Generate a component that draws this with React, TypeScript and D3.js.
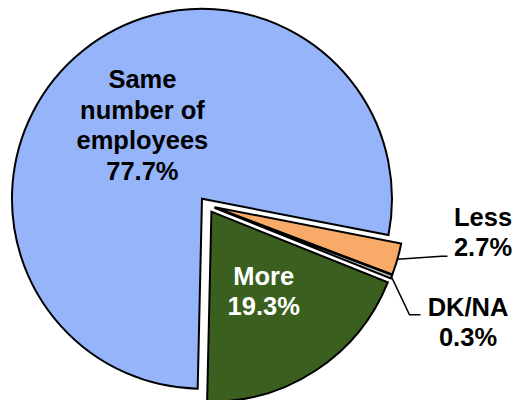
import * as d3 from 'd3'

const WIDTH = 514
const HEIGHT = 400

// data, clockwise from the Same slice
const categories = ['Same number of employees', 'Less', 'DK/NA', 'More']
const shares = [77.7, 2.7, 0.3, 19.3]
const labelLines = [
  ['Same', 'number of', 'employees', '77.7%'],
  ['Less', '2.7%'],
  ['DK/NA', '0.3%'],
  ['More', '19.3%'],
]
const colors = ['#96B4FA', '#F8AA68', '#C0C0C0', '#3B5F1E']
const textColors = ['#000', '#000', '#000', '#fff']

export default function App() {
  const cx = 207
  const cy = 205
  const radius = 190
  const explode = 8
  const fontSize = 25.5
  const lineH = 30.5

  const pie = d3
    .pie<number>()
    .sort(null)
    .value((d) => d)
    .startAngle((181.3 * Math.PI) / 180)
    .endAngle((181.3 * Math.PI) / 180 + 2 * Math.PI)

  const arcs = pie(shares)
  const arcGen = d3.arc<d3.PieArcDatum<number>>().innerRadius(0).outerRadius(radius)

  // outside labels: [leader points relative to arc edge], text centre
  const outside: Record<number, { pts: [number, number][]; tx: number; ty: number }> = {
    1: { pts: [[0, 0], [44, -3], [50, -3]], tx: 483, ty: 232 },
    2: { pts: [[0, 0], [18, 38], [29, 38]], tx: 468, ty: 322 },
  }

  return (
    <svg
      width={WIDTH}
      height={HEIGHT}
      style={{ position: 'absolute', left: 0, top: 0, background: '#fff' }}
      fontFamily="'Liberation Sans', Arial, sans-serif"
      fontWeight="bold"
    >
      {arcs.map((a, i) => {
        const mid = (a.startAngle + a.endAngle) / 2
        const dx = Math.sin(mid) * explode
        const dy = -Math.cos(mid) * explode
        return (
          <g key={categories[i]} transform={`translate(${cx + dx},${cy + dy})`}>
            <path d={arcGen(a) ?? undefined} fill={colors[i]} stroke="#000" strokeWidth={2} strokeLinejoin="miter" />
          </g>
        )
      })}
      {arcs.map((a, i) => {
        const mid = (a.startAngle + a.endAngle) / 2
        const dx = Math.sin(mid) * explode
        const dy = -Math.cos(mid) * explode
        const lines = labelLines[i]
        const o = outside[i]
        if (o) {
          const ex = cx + Math.sin(mid) * (radius + explode)
          const ey = cy - Math.cos(mid) * (radius + explode)
          const pts = o.pts.map(([px, py]) => [ex + px, ey + py] as [number, number])
          return (
            <g key={'l' + i}>
              <path d={d3.line()(pts) ?? undefined} fill="none" stroke="#000" strokeWidth={1.5} />
              {lines.map((t, j) => (
                <text
                  key={j}
                  x={o.tx}
                  y={o.ty + (j - (lines.length - 1) / 2) * lineH}
                  textAnchor="middle"
                  dominantBaseline="central"
                  fontSize={fontSize}
                  fill={textColors[i]}
                >
                  {t}
                </text>
              ))}
            </g>
          )
        }
        const lr = radius * 0.5
        const lx = cx + dx + Math.sin(mid) * lr
        const ly = cy + dy - Math.cos(mid) * lr
        return (
          <g key={'l' + i}>
            {lines.map((t, j) => (
              <text
                key={j}
                x={lx}
                y={ly + (j - (lines.length - 1) / 2) * lineH}
                textAnchor="middle"
                dominantBaseline="central"
                fontSize={fontSize}
                fill={textColors[i]}
              >
                {t}
              </text>
            ))}
          </g>
        )
      })}
    </svg>
  )
}
